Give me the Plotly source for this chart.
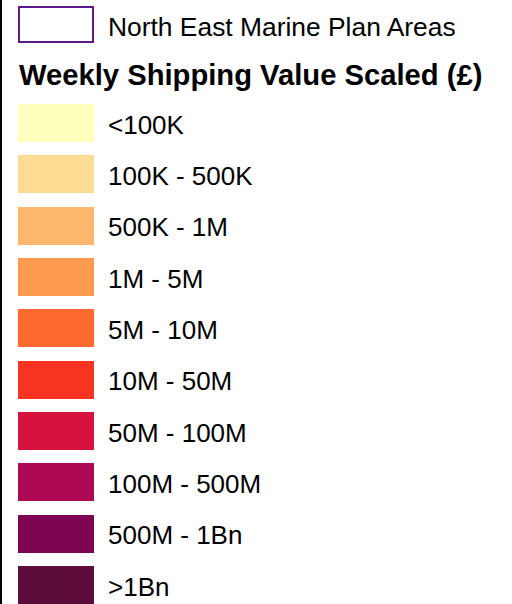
import plotly.graph_objects as go

# Legend data
boundary_label = "North East Marine Plan Areas"
boundary_color = "#5C1A8A"
legend_title = "Weekly Shipping Value Scaled (£)"
class_labels = ["<100K", "100K - 500K", "500K - 1M", "1M - 5M", "5M - 10M",
                "10M - 50M", "50M - 100M", "100M - 500M", "500M - 1Bn", ">1Bn"]
class_colors = ["#FFFFBE", "#FEDC93", "#FEB86C", "#FD9A4F", "#FD6A30",
                "#F73421", "#D6123F", "#AC0854", "#7E0552", "#5D0B38"]

W, H = 512, 604
pitch = 51.33
first_center = 123.0
sw_x0, sw_w = 18, 76
text_x = 106
bar_h = 38 / pitch

def row(py):
    return (py - first_center) / pitch

idx = list(range(len(class_labels)))

fig = go.Figure()
fig.add_trace(go.Bar(
    orientation="h", y=idx, x=[sw_w] * len(idx), base=[sw_x0] * len(idx),
    width=bar_h, marker=dict(color=class_colors, line=dict(width=0)),
    hoverinfo="skip", showlegend=False))
# boundary symbol
fig.add_trace(go.Bar(
    orientation="h", y=[row(24.5)], x=[sw_w - 2], base=[sw_x0 + 1],
    width=35 / pitch, marker=dict(color="white", line=dict(color=boundary_color, width=2)),
    hoverinfo="skip", showlegend=False))

font = "Liberation Sans, Arial, sans-serif"
ann = []
for i, lab in enumerate(class_labels):
    ann.append(dict(x=text_x, y=i + 0.03, text=lab, xanchor="left", yanchor="middle",
                    showarrow=False, font=dict(family=font, size=26, color="#000")))
ann.append(dict(x=text_x, y=row(27), text=boundary_label, xanchor="left", yanchor="middle",
                showarrow=False, font=dict(family=font, size=26.4, color="#000")))
ann.append(dict(x=17, y=row(75), text="<b>" + legend_title + "</b>", xanchor="left",
                yanchor="middle", showarrow=False, font=dict(family=font, size=29.2, color="#000")))

fig.update_layout(
    width=W, height=H, margin=dict(l=0, r=0, t=0, b=0),
    paper_bgcolor="white", plot_bgcolor="white",
    xaxis=dict(range=[0, W], visible=False, fixedrange=True),
    yaxis=dict(range=[row(H), row(0)], visible=False, fixedrange=True),
    annotations=ann, bargap=0,
    shapes=[dict(type="line", xref="paper", yref="paper", x0=0.002, x1=0.002, y0=0, y1=1,
                 line=dict(color="black", width=2))],
)
fig.write_html("out.html", config={"displayModeBar": False},
               post_script="document.body.style.margin='0';document.body.style.overflow='hidden';")
